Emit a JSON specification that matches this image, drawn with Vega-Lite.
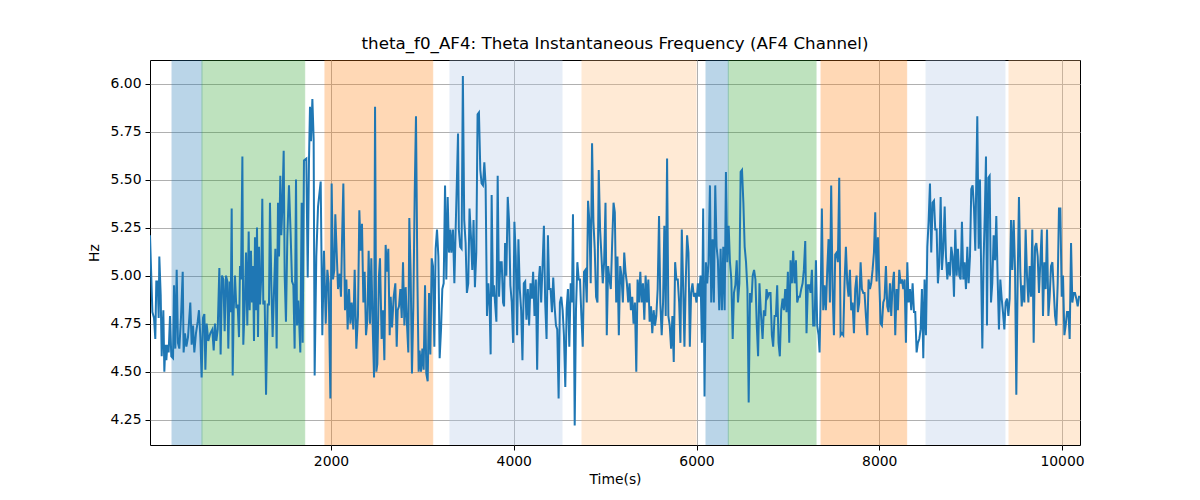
{
  "$schema": "https://vega.github.io/schema/vega-lite/v6.json",
  "width": 930,
  "height": 385,
  "autosize": {"type": "none"},
  "padding": {"left": 150, "top": 60, "right": 120, "bottom": 55},
  "background": "white",
  "title": {
    "text": "theta_f0_AF4: Theta Instantaneous Frequency (AF4 Channel)",
    "font": "DejaVu Sans",
    "fontSize": 16.7,
    "fontWeight": "normal",
    "color": "black",
    "anchor": "middle",
    "offset": 7
  },
  "datasets": {
    "bands": [
      {"start": 260, "end": 588, "kind": "blue"},
      {"start": 588, "end": 1712, "kind": "green"},
      {"start": 1934, "end": 3113, "kind": "orange"},
      {"start": 3302, "end": 4528, "kind": "lightblue"},
      {"start": 4747, "end": 5995, "kind": "lightorange"},
      {"start": 6104, "end": 6348, "kind": "blue"},
      {"start": 6348, "end": 7308, "kind": "green"},
      {"start": 7363, "end": 8300, "kind": "orange"},
      {"start": 8512, "end": 9376, "kind": "lightblue"},
      {"start": 9420, "end": 10300, "kind": "lightorange"}
    ],
    "series": [
      {"t":19,"hz":5.21},{"t":45,"hz":4.81},{"t":63,"hz":4.78},{"t":77,"hz":4.67},{"t":88,"hz":4.97},{"t":103,"hz":4.97},{"t":114,"hz":4.78},{"t":121,"hz":5.10},{"t":136,"hz":4.90},{"t":147,"hz":4.58},
      {"t":165,"hz":4.82},{"t":176,"hz":4.50},{"t":187,"hz":4.64},{"t":198,"hz":4.56},{"t":209,"hz":4.64},{"t":223,"hz":4.60},{"t":238,"hz":4.79},{"t":252,"hz":4.58},{"t":271,"hz":4.57},{"t":282,"hz":4.95},
      {"t":296,"hz":4.62},{"t":311,"hz":5.03},{"t":325,"hz":4.65},{"t":340,"hz":4.62},{"t":358,"hz":4.78},{"t":377,"hz":5.02},{"t":387,"hz":4.60},{"t":402,"hz":4.70},{"t":417,"hz":4.63},{"t":435,"hz":4.68},
      {"t":460,"hz":4.86},{"t":475,"hz":4.64},{"t":490,"hz":4.74},{"t":504,"hz":4.60},{"t":522,"hz":4.70},{"t":541,"hz":4.76},{"t":555,"hz":4.82},{"t":570,"hz":4.68},{"t":584,"hz":4.47},{"t":599,"hz":4.78},
      {"t":614,"hz":4.80},{"t":625,"hz":4.51},{"t":639,"hz":4.75},{"t":657,"hz":4.66},{"t":679,"hz":4.70},{"t":701,"hz":4.72},{"t":716,"hz":4.61},{"t":730,"hz":4.75},{"t":745,"hz":4.66},{"t":760,"hz":4.72},
      {"t":778,"hz":5.04},{"t":792,"hz":4.59},{"t":807,"hz":5.00},{"t":822,"hz":4.98},{"t":836,"hz":4.71},{"t":851,"hz":5.00},{"t":865,"hz":4.97},{"t":876,"hz":4.62},{"t":891,"hz":4.97},{"t":902,"hz":4.81},
      {"t":913,"hz":5.35},{"t":924,"hz":4.48},{"t":935,"hz":4.82},{"t":949,"hz":5.00},{"t":964,"hz":4.83},{"t":978,"hz":4.85},{"t":993,"hz":4.68},{"t":1004,"hz":5.05},{"t":1015,"hz":4.98},{"t":1030,"hz":5.62},
      {"t":1040,"hz":4.64},{"t":1055,"hz":4.84},{"t":1070,"hz":5.12},{"t":1084,"hz":4.74},{"t":1099,"hz":5.23},{"t":1110,"hz":4.82},{"t":1124,"hz":5.13},{"t":1135,"hz":4.86},{"t":1146,"hz":5.05},{"t":1157,"hz":4.66},
      {"t":1168,"hz":5.20},{"t":1179,"hz":4.82},{"t":1190,"hz":5.25},{"t":1201,"hz":4.68},{"t":1212,"hz":5.15},{"t":1223,"hz":4.85},{"t":1237,"hz":5.00},{"t":1248,"hz":5.40},{"t":1259,"hz":4.85},{"t":1274,"hz":4.87},
      {"t":1289,"hz":4.38},{"t":1307,"hz":4.85},{"t":1321,"hz":4.85},{"t":1332,"hz":5.38},{"t":1347,"hz":4.95},{"t":1361,"hz":4.68},{"t":1376,"hz":4.92},{"t":1391,"hz":5.14},{"t":1405,"hz":4.62},{"t":1420,"hz":5.38},
      {"t":1431,"hz":5.10},{"t":1445,"hz":5.52},{"t":1456,"hz":5.21},{"t":1467,"hz":5.35},{"t":1482,"hz":5.65},{"t":1493,"hz":5.00},{"t":1507,"hz":4.76},{"t":1522,"hz":5.20},{"t":1540,"hz":5.47},{"t":1558,"hz":5.22},
      {"t":1573,"hz":4.97},{"t":1588,"hz":4.95},{"t":1602,"hz":4.62},{"t":1617,"hz":5.50},{"t":1628,"hz":4.74},{"t":1642,"hz":4.87},{"t":1653,"hz":4.74},{"t":1664,"hz":4.60},{"t":1679,"hz":5.38},{"t":1690,"hz":4.65},
      {"t":1704,"hz":5.60},{"t":1730,"hz":5.61},{"t":1745,"hz":4.99},{"t":1759,"hz":5.60},{"t":1770,"hz":5.88},{"t":1781,"hz":5.70},{"t":1796,"hz":5.92},{"t":1810,"hz":5.71},{"t":1821,"hz":4.48},{"t":1839,"hz":5.10},
      {"t":1858,"hz":5.36},{"t":1887,"hz":5.49},{"t":1905,"hz":4.69},{"t":1923,"hz":5.13},{"t":1942,"hz":4.75},{"t":1960,"hz":5.03},{"t":1974,"hz":4.96},{"t":1993,"hz":4.36},{"t":2007,"hz":5.48},{"t":2022,"hz":4.98},
      {"t":2036,"hz":5.03},{"t":2047,"hz":5.32},{"t":2062,"hz":5.12},{"t":2077,"hz":4.93},{"t":2095,"hz":5.01},{"t":2109,"hz":4.89},{"t":2120,"hz":5.17},{"t":2135,"hz":5.48},{"t":2153,"hz":4.82},{"t":2168,"hz":4.98},
      {"t":2182,"hz":4.72},{"t":2197,"hz":4.93},{"t":2212,"hz":4.75},{"t":2226,"hz":4.86},{"t":2244,"hz":4.72},{"t":2259,"hz":5.03},{"t":2277,"hz":4.62},{"t":2295,"hz":4.79},{"t":2310,"hz":5.34},{"t":2325,"hz":5.13},
      {"t":2339,"hz":5.27},{"t":2354,"hz":4.86},{"t":2368,"hz":5.02},{"t":2383,"hz":4.69},{"t":2398,"hz":4.77},{"t":2412,"hz":5.13},{"t":2427,"hz":4.75},{"t":2441,"hz":5.09},{"t":2456,"hz":4.74},{"t":2471,"hz":4.47},
      {"t":2482,"hz":5.88},{"t":2496,"hz":4.50},{"t":2507,"hz":4.54},{"t":2525,"hz":5.00},{"t":2536,"hz":5.09},{"t":2554,"hz":4.67},{"t":2569,"hz":4.82},{"t":2584,"hz":4.56},{"t":2598,"hz":5.16},{"t":2613,"hz":5.02},
      {"t":2627,"hz":5.14},{"t":2642,"hz":4.69},{"t":2653,"hz":4.89},{"t":2668,"hz":4.73},{"t":2686,"hz":4.89},{"t":2704,"hz":4.96},{"t":2719,"hz":4.63},{"t":2730,"hz":4.82},{"t":2744,"hz":4.84},{"t":2759,"hz":4.93},
      {"t":2774,"hz":4.78},{"t":2788,"hz":5.07},{"t":2803,"hz":4.74},{"t":2817,"hz":4.94},{"t":2832,"hz":4.74},{"t":2846,"hz":4.60},{"t":2857,"hz":5.30},{"t":2872,"hz":5.00},{"t":2886,"hz":4.49},{"t":2901,"hz":4.84},
      {"t":2916,"hz":5.43},{"t":2930,"hz":5.83},{"t":2945,"hz":5.00},{"t":2959,"hz":4.50},{"t":2970,"hz":4.61},{"t":2985,"hz":4.50},{"t":3000,"hz":4.62},{"t":3014,"hz":4.51},{"t":3029,"hz":4.95},{"t":3043,"hz":4.49},
      {"t":3058,"hz":4.45},{"t":3073,"hz":4.91},{"t":3087,"hz":4.59},{"t":3102,"hz":5.09},{"t":3116,"hz":5.05},{"t":3131,"hz":4.63},{"t":3145,"hz":5.14},{"t":3160,"hz":5.24},{"t":3175,"hz":5.10},{"t":3189,"hz":4.57},
      {"t":3204,"hz":4.72},{"t":3218,"hz":4.93},{"t":3233,"hz":4.96},{"t":3248,"hz":5.47},{"t":3262,"hz":4.98},{"t":3277,"hz":5.41},{"t":3291,"hz":5.12},{"t":3306,"hz":5.24},{"t":3317,"hz":5.12},{"t":3335,"hz":5.24},
      {"t":3350,"hz":4.96},{"t":3364,"hz":5.24},{"t":3379,"hz":5.52},{"t":3390,"hz":5.74},{"t":3399,"hz":5.24},{"t":3414,"hz":5.15},{"t":3429,"hz":5.14},{"t":3443,"hz":6.04},{"t":3458,"hz":5.29},{"t":3473,"hz":5.17},
      {"t":3487,"hz":4.91},{"t":3502,"hz":4.96},{"t":3516,"hz":5.35},{"t":3531,"hz":5.21},{"t":3546,"hz":5.03},{"t":3560,"hz":5.29},{"t":3575,"hz":4.94},{"t":3590,"hz":5.12},{"t":3604,"hz":5.84},{"t":3619,"hz":5.85},
      {"t":3634,"hz":5.55},{"t":3648,"hz":5.48},{"t":3663,"hz":5.47},{"t":3678,"hz":5.59},{"t":3692,"hz":5.47},{"t":3707,"hz":4.79},{"t":3722,"hz":4.96},{"t":3736,"hz":4.84},{"t":3747,"hz":4.59},{"t":3758,"hz":5.42},
      {"t":3773,"hz":4.89},{"t":3784,"hz":4.95},{"t":3795,"hz":4.86},{"t":3810,"hz":4.76},{"t":3824,"hz":5.52},{"t":3839,"hz":4.89},{"t":3853,"hz":5.07},{"t":3868,"hz":5.07},{"t":3883,"hz":4.86},{"t":3894,"hz":4.84},
      {"t":3905,"hz":5.17},{"t":3919,"hz":5.00},{"t":3934,"hz":5.41},{"t":3949,"hz":5.28},{"t":3963,"hz":4.95},{"t":3978,"hz":4.86},{"t":3993,"hz":4.65},{"t":4007,"hz":5.28},{"t":4022,"hz":5.10},{"t":4037,"hz":4.69},
      {"t":4051,"hz":5.19},{"t":4066,"hz":4.93},{"t":4081,"hz":4.82},{"t":4095,"hz":4.56},{"t":4110,"hz":4.96},{"t":4125,"hz":4.97},{"t":4139,"hz":4.77},{"t":4154,"hz":4.93},{"t":4168,"hz":4.74},{"t":4183,"hz":4.96},
      {"t":4198,"hz":4.88},{"t":4212,"hz":5.02},{"t":4227,"hz":4.79},{"t":4242,"hz":4.98},{"t":4256,"hz":4.51},{"t":4271,"hz":4.96},{"t":4286,"hz":5.05},{"t":4300,"hz":4.86},{"t":4315,"hz":5.05},{"t":4330,"hz":5.26},
      {"t":4344,"hz":4.86},{"t":4359,"hz":4.67},{"t":4374,"hz":5.21},{"t":4388,"hz":4.93},{"t":4403,"hz":4.93},{"t":4418,"hz":4.81},{"t":4432,"hz":4.99},{"t":4447,"hz":4.84},{"t":4462,"hz":4.74},{"t":4476,"hz":4.72},
      {"t":4491,"hz":4.36},{"t":4505,"hz":4.86},{"t":4520,"hz":4.89},{"t":4535,"hz":4.82},{"t":4549,"hz":4.69},{"t":4564,"hz":4.42},{"t":4579,"hz":4.83},{"t":4593,"hz":4.93},{"t":4608,"hz":4.63},{"t":4623,"hz":4.96},
      {"t":4637,"hz":4.86},{"t":4648,"hz":5.32},{"t":4659,"hz":4.74},{"t":4667,"hz":4.22},{"t":4681,"hz":4.82},{"t":4696,"hz":5.07},{"t":4711,"hz":4.98},{"t":4725,"hz":4.98},{"t":4740,"hz":4.79},{"t":4755,"hz":4.63},
      {"t":4769,"hz":5.02},{"t":4784,"hz":5.03},{"t":4799,"hz":4.86},{"t":4813,"hz":5.39},{"t":4828,"hz":5.28},{"t":4842,"hz":4.96},{"t":4857,"hz":5.69},{"t":4872,"hz":5.28},{"t":4886,"hz":5.14},{"t":4901,"hz":4.89},
      {"t":4916,"hz":4.86},{"t":4930,"hz":5.55},{"t":4945,"hz":5.24},{"t":4960,"hz":5.10},{"t":4974,"hz":4.96},{"t":4989,"hz":5.07},{"t":5004,"hz":5.38},{"t":5018,"hz":4.69},{"t":5033,"hz":5.05},{"t":5048,"hz":4.98},
      {"t":5062,"hz":4.93},{"t":5077,"hz":5.17},{"t":5092,"hz":5.38},{"t":5106,"hz":5.33},{"t":5121,"hz":4.86},{"t":5135,"hz":5.10},{"t":5150,"hz":4.69},{"t":5165,"hz":5.05},{"t":5179,"hz":5.00},{"t":5194,"hz":4.86},
      {"t":5209,"hz":5.12},{"t":5223,"hz":5.02},{"t":5238,"hz":4.96},{"t":5253,"hz":4.86},{"t":5267,"hz":4.96},{"t":5282,"hz":4.82},{"t":5297,"hz":4.89},{"t":5311,"hz":4.75},{"t":5326,"hz":4.86},{"t":5341,"hz":4.50},
      {"t":5355,"hz":4.98},{"t":5370,"hz":4.86},{"t":5385,"hz":5.02},{"t":5399,"hz":4.86},{"t":5414,"hz":4.96},{"t":5429,"hz":4.77},{"t":5443,"hz":5.00},{"t":5458,"hz":4.86},{"t":5473,"hz":4.98},{"t":5487,"hz":4.76},
      {"t":5502,"hz":4.84},{"t":5516,"hz":4.70},{"t":5531,"hz":4.82},{"t":5546,"hz":4.74},{"t":5560,"hz":4.79},{"t":5575,"hz":4.93},{"t":5590,"hz":5.31},{"t":5604,"hz":4.86},{"t":5619,"hz":4.69},{"t":5634,"hz":4.86},
      {"t":5648,"hz":5.26},{"t":5663,"hz":4.79},{"t":5678,"hz":5.61},{"t":5692,"hz":4.79},{"t":5707,"hz":4.74},{"t":5722,"hz":4.62},{"t":5736,"hz":4.79},{"t":5751,"hz":4.55},{"t":5766,"hz":5.07},{"t":5780,"hz":4.98},
      {"t":5795,"hz":4.98},{"t":5810,"hz":4.86},{"t":5824,"hz":4.65},{"t":5839,"hz":5.24},{"t":5853,"hz":4.96},{"t":5868,"hz":4.63},{"t":5883,"hz":4.98},{"t":5897,"hz":5.21},{"t":5912,"hz":5.12},{"t":5927,"hz":4.63},
      {"t":5941,"hz":4.91},{"t":5956,"hz":4.96},{"t":5971,"hz":4.89},{"t":5985,"hz":4.91},{"t":6000,"hz":4.86},{"t":6015,"hz":4.96},{"t":6029,"hz":4.89},{"t":6044,"hz":5.00},{"t":6059,"hz":4.65},{"t":6073,"hz":5.35},
      {"t":6088,"hz":4.37},{"t":6103,"hz":5.07},{"t":6117,"hz":4.96},{"t":6132,"hz":5.07},{"t":6147,"hz":5.47},{"t":6161,"hz":4.86},{"t":6176,"hz":5.19},{"t":6190,"hz":4.86},{"t":6205,"hz":5.47},{"t":6220,"hz":5.15},
      {"t":6234,"hz":5.08},{"t":6249,"hz":4.82},{"t":6264,"hz":5.14},{"t":6278,"hz":4.82},{"t":6293,"hz":5.15},{"t":6308,"hz":4.82},{"t":6322,"hz":5.54},{"t":6337,"hz":5.07},{"t":6352,"hz":5.26},{"t":6366,"hz":5.07},
      {"t":6381,"hz":4.98},{"t":6396,"hz":4.67},{"t":6410,"hz":4.91},{"t":6425,"hz":4.95},{"t":6440,"hz":5.08},{"t":6454,"hz":4.86},{"t":6469,"hz":4.96},{"t":6483,"hz":5.54},{"t":6498,"hz":5.55},{"t":6513,"hz":5.38},
      {"t":6527,"hz":5.15},{"t":6542,"hz":5.07},{"t":6557,"hz":4.93},{"t":6571,"hz":4.34},{"t":6586,"hz":4.91},{"t":6601,"hz":4.86},{"t":6615,"hz":5.00},{"t":6630,"hz":5.03},{"t":6645,"hz":4.98},{"t":6659,"hz":4.75},
      {"t":6674,"hz":4.58},{"t":6689,"hz":4.96},{"t":6703,"hz":4.82},{"t":6723,"hz":4.67},{"t":6737,"hz":4.82},{"t":6752,"hz":4.79},{"t":6766,"hz":4.93},{"t":6781,"hz":4.89},{"t":6796,"hz":4.91},{"t":6810,"hz":4.91},
      {"t":6825,"hz":4.69},{"t":6839,"hz":4.63},{"t":6854,"hz":4.79},{"t":6869,"hz":4.79},{"t":6883,"hz":4.95},{"t":6898,"hz":4.65},{"t":6912,"hz":4.58},{"t":6927,"hz":4.82},{"t":6942,"hz":4.88},{"t":6956,"hz":4.82},
      {"t":6971,"hz":4.93},{"t":6985,"hz":4.81},{"t":7000,"hz":5.02},{"t":7015,"hz":4.65},{"t":7029,"hz":5.08},{"t":7044,"hz":4.96},{"t":7058,"hz":5.13},{"t":7073,"hz":4.96},{"t":7088,"hz":5.08},{"t":7102,"hz":4.86},
      {"t":7117,"hz":4.89},{"t":7131,"hz":4.89},{"t":7146,"hz":4.93},{"t":7161,"hz":4.96},{"t":7175,"hz":5.03},{"t":7190,"hz":5.18},{"t":7204,"hz":4.70},{"t":7219,"hz":4.95},{"t":7234,"hz":4.95},{"t":7248,"hz":4.91},
      {"t":7263,"hz":5.03},{"t":7277,"hz":4.74},{"t":7292,"hz":4.74},{"t":7307,"hz":5.08},{"t":7321,"hz":4.74},{"t":7336,"hz":4.69},{"t":7347,"hz":4.60},{"t":7361,"hz":4.96},{"t":7372,"hz":5.35},{"t":7387,"hz":4.82},
      {"t":7401,"hz":4.95},{"t":7416,"hz":4.82},{"t":7431,"hz":5.03},{"t":7445,"hz":5.19},{"t":7460,"hz":4.86},{"t":7474,"hz":5.47},{"t":7489,"hz":4.93},{"t":7504,"hz":4.69},{"t":7518,"hz":5.11},{"t":7533,"hz":5.12},
      {"t":7547,"hz":5.07},{"t":7562,"hz":5.51},{"t":7577,"hz":4.69},{"t":7591,"hz":4.70},{"t":7606,"hz":4.69},{"t":7620,"hz":4.96},{"t":7635,"hz":5.15},{"t":7650,"hz":4.96},{"t":7664,"hz":4.89},{"t":7679,"hz":5.03},
      {"t":7693,"hz":4.82},{"t":7708,"hz":4.86},{"t":7723,"hz":4.70},{"t":7737,"hz":4.93},{"t":7752,"hz":5.00},{"t":7766,"hz":4.81},{"t":7781,"hz":4.86},{"t":7796,"hz":5.07},{"t":7810,"hz":4.93},{"t":7825,"hz":4.91},
      {"t":7839,"hz":4.91},{"t":7854,"hz":4.79},{"t":7869,"hz":4.69},{"t":7883,"hz":4.98},{"t":7898,"hz":4.93},{"t":7912,"hz":4.96},{"t":7927,"hz":5.03},{"t":7942,"hz":5.12},{"t":7956,"hz":5.33},{"t":7971,"hz":4.97},
      {"t":7985,"hz":5.20},{"t":8000,"hz":4.98},{"t":8015,"hz":4.75},{"t":8029,"hz":4.74},{"t":8044,"hz":4.86},{"t":8058,"hz":4.88},{"t":8073,"hz":5.05},{"t":8088,"hz":4.84},{"t":8102,"hz":4.81},{"t":8117,"hz":4.96},
      {"t":8131,"hz":4.79},{"t":8146,"hz":4.95},{"t":8161,"hz":5.02},{"t":8175,"hz":4.69},{"t":8190,"hz":4.93},{"t":8204,"hz":4.82},{"t":8219,"hz":5.03},{"t":8234,"hz":4.96},{"t":8248,"hz":4.98},{"t":8263,"hz":4.93},
      {"t":8277,"hz":4.98},{"t":8292,"hz":4.65},{"t":8307,"hz":5.07},{"t":8321,"hz":4.86},{"t":8336,"hz":4.93},{"t":8350,"hz":4.82},{"t":8365,"hz":4.96},{"t":8380,"hz":4.81},{"t":8394,"hz":4.81},{"t":8409,"hz":4.60},
      {"t":8423,"hz":4.65},{"t":8438,"hz":4.67},{"t":8453,"hz":4.72},{"t":8467,"hz":4.93},{"t":8482,"hz":4.57},{"t":8496,"hz":4.98},{"t":8511,"hz":4.69},{"t":8526,"hz":5.15},{"t":8540,"hz":5.28},{"t":8555,"hz":5.48},
      {"t":8569,"hz":5.12},{"t":8584,"hz":5.38},{"t":8599,"hz":5.39},{"t":8613,"hz":5.24},{"t":8628,"hz":5.24},{"t":8642,"hz":4.96},{"t":8657,"hz":5.07},{"t":8672,"hz":5.41},{"t":8686,"hz":5.03},{"t":8701,"hz":5.14},
      {"t":8716,"hz":5.36},{"t":8730,"hz":5.10},{"t":8745,"hz":4.98},{"t":8759,"hz":5.07},{"t":8774,"hz":5.00},{"t":8788,"hz":5.15},{"t":8803,"hz":5.10},{"t":8818,"hz":4.89},{"t":8832,"hz":5.24},{"t":8847,"hz":5.00},
      {"t":8861,"hz":5.14},{"t":8876,"hz":5.00},{"t":8891,"hz":4.98},{"t":8905,"hz":5.28},{"t":8920,"hz":4.98},{"t":8934,"hz":5.07},{"t":8949,"hz":4.93},{"t":8964,"hz":5.15},{"t":8978,"hz":4.96},{"t":8993,"hz":5.10},
      {"t":9007,"hz":5.45},{"t":9022,"hz":5.47},{"t":9037,"hz":5.35},{"t":9051,"hz":5.13},{"t":9062,"hz":5.50},{"t":9073,"hz":5.83},{"t":9088,"hz":5.14},{"t":9102,"hz":5.50},{"t":9117,"hz":4.96},{"t":9128,"hz":4.62},
      {"t":9142,"hz":5.08},{"t":9157,"hz":5.36},{"t":9168,"hz":5.62},{"t":9179,"hz":4.74},{"t":9194,"hz":5.51},{"t":9208,"hz":5.52},{"t":9223,"hz":4.86},{"t":9237,"hz":4.96},{"t":9252,"hz":5.21},{"t":9267,"hz":5.08},
      {"t":9281,"hz":5.31},{"t":9296,"hz":4.98},{"t":9310,"hz":4.72},{"t":9325,"hz":4.98},{"t":9340,"hz":4.88},{"t":9354,"hz":4.81},{"t":9369,"hz":4.72},{"t":9383,"hz":4.86},{"t":9398,"hz":4.88},{"t":9413,"hz":4.79},
      {"t":9427,"hz":4.88},{"t":9442,"hz":5.29},{"t":9456,"hz":5.03},{"t":9471,"hz":5.29},{"t":9486,"hz":5.03},{"t":9500,"hz":4.38},{"t":9515,"hz":4.98},{"t":9529,"hz":5.41},{"t":9544,"hz":5.02},{"t":9559,"hz":4.84},
      {"t":9573,"hz":4.95},{"t":9588,"hz":4.86},{"t":9602,"hz":5.24},{"t":9617,"hz":5.00},{"t":9632,"hz":4.86},{"t":9646,"hz":5.05},{"t":9661,"hz":4.89},{"t":9675,"hz":5.24},{"t":9690,"hz":4.65},{"t":9705,"hz":5.15},
      {"t":9719,"hz":5.17},{"t":9734,"hz":5.10},{"t":9748,"hz":4.91},{"t":9763,"hz":5.07},{"t":9778,"hz":5.24},{"t":9792,"hz":4.79},{"t":9807,"hz":5.07},{"t":9821,"hz":4.93},{"t":9836,"hz":5.24},{"t":9851,"hz":4.79},
      {"t":9865,"hz":4.89},{"t":9880,"hz":5.05},{"t":9895,"hz":5.07},{"t":9909,"hz":4.93},{"t":9924,"hz":4.79},{"t":9938,"hz":4.74},{"t":9953,"hz":4.96},{"t":9967,"hz":5.35},{"t":9982,"hz":5.35},{"t":9997,"hz":4.89},
      {"t":10011,"hz":5.00},{"t":10026,"hz":4.69},{"t":10040,"hz":4.74},{"t":10055,"hz":4.81},{"t":10070,"hz":4.81},{"t":10084,"hz":4.67},{"t":10099,"hz":5.17},{"t":10113,"hz":4.86},{"t":10128,"hz":4.91},{"t":10142,"hz":4.91},
      {"t":10157,"hz":4.88},{"t":10172,"hz":4.84},{"t":10186,"hz":4.89},{"t":10197,"hz":4.89}
    ]
  },
  "layer": [
    {
      "data": {"name": "bands"},
      "mark": {"type": "rect", "clip": true, "opacity": 0.3, "strokeWidth": 1},
      "encoding": {
        "x": {
          "field": "start",
          "type": "quantitative",
          "scale": {"domain": [19, 10197], "nice": false, "zero": false},
          "axis": {"title": "Time(s)", "values": [2000, 4000, 6000, 8000, 10000], "format": "d"}
        },
        "x2": {"field": "end"},
        "color": {
          "field": "kind",
          "type": "nominal",
          "scale": {
            "domain": ["blue", "green", "orange", "lightblue", "lightorange"],
            "range": ["#1f77b4", "#2ca02c", "#ff7f0e", "#aec7e8", "#ffbb78"]
          },
          "legend": null
        },
        "stroke": {
          "field": "kind",
          "type": "nominal",
          "scale": {
            "domain": ["blue", "green", "orange", "lightblue", "lightorange"],
            "range": ["#1f77b4", "#2ca02c", "#ff7f0e", "#aec7e8", "#ffbb78"]
          },
          "legend": null
        }
      }
    },
    {
      "data": {"name": "series"},
      "mark": {"type": "line", "color": "#1f77b4", "strokeWidth": 2, "clip": true},
      "encoding": {
        "x": {"field": "t", "type": "quantitative"},
        "y": {
          "field": "hz",
          "type": "quantitative",
          "scale": {"domain": [4.118, 6.123], "nice": false, "zero": false},
          "axis": {"title": "Hz", "values": [4.25, 4.5, 4.75, 5.0, 5.25, 5.5, 5.75, 6.0], "format": ".2f"}
        }
      }
    }
  ],
  "config": {
    "view": {"stroke": "black", "strokeWidth": 1},
    "axis": {
      "grid": true,
      "gridColor": "#b0b0b0",
      "gridWidth": 1,
      "domain": false,
      "tickColor": "black",
      "tickSize": 5,
      "labelPadding": 4,
      "labelFont": "DejaVu Sans",
      "labelFontSize": 13.9,
      "labelColor": "black",
      "titleFont": "DejaVu Sans",
      "titleFontSize": 13.9,
      "titleFontWeight": "normal",
      "titleColor": "black"
    },
    "axisY": {"titlePadding": 9},
    "axisX": {"titlePadding": 5}
  }
}
